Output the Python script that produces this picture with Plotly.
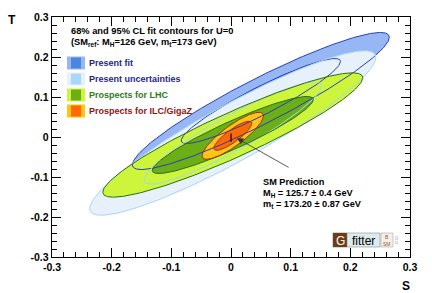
import numpy as np
import plotly.graph_objects as go

# ---- data ----
families = ["Present fit", "Present uncertainties", "Prospects for LHC", "Prospects for ILC/GigaZ"]
center_S = [0.05, 0.003, 0.003, 0.003]
center_T = [0.09, 0.010, 0.005, 0.003]
sigma_S = [0.088, 0.098, 0.089, 0.021]
sigma_T = [0.070, 0.084, 0.0635, 0.024]
rho = [0.93, 0.92, 0.92, 0.85]
cl_dchi2 = [5.99, 2.30]          # 95% CL, 68% CL (2 dof)

sm_S = [0.0, 0.0]
sm_T = [-0.012, 0.009]
arrow_tip = (0.010, -0.003)
arrow_tail = (0.099, -0.078)

tick_vals = [-0.3, -0.2, -0.1, 0, 0.1, 0.2, 0.3]
tick_text = ["-0.3", "-0.2", "-0.1", "0", "0.1", "0.2", "0.3"]

# ---- styles ----
fill95 = ["#97b7f4", "#e7f1fb", "#cdf53c", "#ffc414"]
fill68 = ["#4a86e0", "#a9d7f8", "#6bae16", "#ff6a00"]
line_col = ["#2a3cc0", "#a6d6f6", "#2f6b12", "#a0300e"]
text_col = ["#1f1f8a", "#1f1f8a", "#2e7a1a", "#8e1414"]
FONT = "Liberation Sans"

W, H = 432, 293
L, R, T, B = 52, 22, 17, 36
def px(x):
    return (x - L) / (W - L - R)
def py(y):
    return (H - B - y) / (H - T - B)

def ellipse(i, d2):
    t = np.linspace(0, 2 * np.pi, 300)
    k = np.sqrt(d2)
    s = center_S[i] + k * sigma_S[i] * np.cos(t)
    tt = center_T[i] + k * sigma_T[i] * (rho[i] * np.cos(t) + np.sqrt(1 - rho[i] ** 2) * np.sin(t))
    return s, tt

fig = go.Figure()
for i in range(len(families)):
    for j, d2 in enumerate(cl_dchi2):
        s, tt = ellipse(i, d2)
        fig.add_trace(go.Scatter(x=s, y=tt, mode="lines", fill="toself",
                                 fillcolor=fill95[i] if j == 0 else fill68[i],
                                 line=dict(width=0), hoverinfo="skip", showlegend=False))
for i in range(len(families)):
    for d2 in cl_dchi2:
        s, tt = ellipse(i, d2)
        fig.add_trace(go.Scatter(x=s, y=tt, mode="lines", line=dict(color=line_col[i], width=1),
                                 hoverinfo="skip", showlegend=False))

fig.add_trace(go.Scatter(x=sm_S, y=sm_T, mode="lines", line=dict(color="black", width=1.2),
                         hoverinfo="skip", showlegend=False))

annotations = []
annotations.append(dict(x=arrow_tip[0], y=arrow_tip[1], ax=arrow_tail[0], ay=arrow_tail[1],
                        xref="x", yref="y", axref="x", ayref="y", showarrow=True,
                        arrowhead=2, arrowsize=1.6, arrowwidth=0.8, arrowcolor="#333333", text=""))

def txt(x, y, s, size=9, color="black", bold=True, xanchor="left", **kw):
    annotations.append(dict(x=px(x), y=py(y), xref="paper", yref="paper", text=("<b>%s</b>" % s) if bold else s,
                            showarrow=False, xanchor=xanchor, yanchor="middle",
                            font=dict(family=FONT, size=size, color=color), **kw))

txt(69, 31, "68% and 95% CL fit contours for U=0", size=9.3)
txt(69, 43, "(SM<sub>ref</sub>: M<sub>H</sub>=126 GeV, m<sub>t</sub>=173 GeV)", size=9.3)
leg_y = [63, 79, 95, 111]
shapes = []
for i in range(len(families)):
    txt(87, leg_y[i], families[i], color=text_col[i])
    shapes.append(dict(type="rect", xref="paper", yref="paper", x0=px(67), x1=px(85),
                       y0=py(leg_y[i] - 6.5), y1=py(leg_y[i] + 6.5), fillcolor=fill95[i], line=dict(width=0)))
    shapes.append(dict(type="rect", xref="paper", yref="paper", x0=px(71), x1=px(81),
                       y0=py(leg_y[i] - 5.5), y1=py(leg_y[i] + 5.5), fillcolor=fill68[i], line=dict(width=0)))

txt(261, 182, "SM Prediction", size=9.2)
txt(261, 193, "M<sub>H</sub> = 125.7 ± 0.4 GeV", size=9.2)
txt(261, 204, "m<sub>t</sub> = 173.20 ± 0.87 GeV", size=9.2)

# axis titles
txt(12, 20, "T", size=12, xanchor="center")
txt(406, 286, "S", size=12, xanchor="center")

# Gfitter logo
shapes.append(dict(type="rect", xref="paper", yref="paper", x0=px(333), x1=px(347), y0=py(247), y1=py(233),
                   fillcolor="#6e3b12", line=dict(color="#555555", width=0.5)))
shapes.append(dict(type="rect", xref="paper", yref="paper", x0=px(347), x1=px(380), y0=py(247), y1=py(233),
                   fillcolor="#dcecee", line=dict(color="#777777", width=0.5)))
shapes.append(dict(type="rect", xref="paper", yref="paper", x0=px(381), x1=px(393), y0=py(247), y1=py(233),
                   fillcolor="#f4efe8", line=dict(color="#999999", width=0.5)))
txt(340, 240.5, "G", size=12, color="white", bold=False, xanchor="center")
txt(363.5, 240.5, "fitter", size=12, color="black", bold=False, xanchor="center")
txt(387, 237, "B", size=5, color="#8a5a30", bold=False, xanchor="center")
txt(387, 243.5, "SM", size=5, color="#8a5a30", bold=False, xanchor="center")
txt(396.5, 240, "2014", size=4, color="#999999", bold=False, xanchor="center", textangle=90)

axis_common = dict(tickvals=tick_vals, ticktext=tick_text, ticks="inside", ticklen=9, tickwidth=1,
                   tickcolor="black", showline=True, linecolor="black", linewidth=1.3, mirror="allticks",
                   showgrid=False, zeroline=False,
                   tickfont=dict(family=FONT, size=10.5, color="black", weight="bold"),
                   minor=dict(dtick=0.02, ticks="inside", ticklen=5, tickcolor="black", tickwidth=1, showgrid=False))
fig.update_xaxes(range=[-0.3, 0.3], **axis_common)
fig.update_yaxes(range=[-0.3, 0.3], **axis_common)

fig.update_layout(width=W, height=H, margin=dict(l=L, r=R, t=T, b=B, pad=0),
                  plot_bgcolor="white", paper_bgcolor="white",
                  annotations=annotations, shapes=shapes, showlegend=False)
fig.write_html("out.html", config={"displayModeBar": False, "staticPlot": True},
               post_script="document.body.style.margin='0';")
